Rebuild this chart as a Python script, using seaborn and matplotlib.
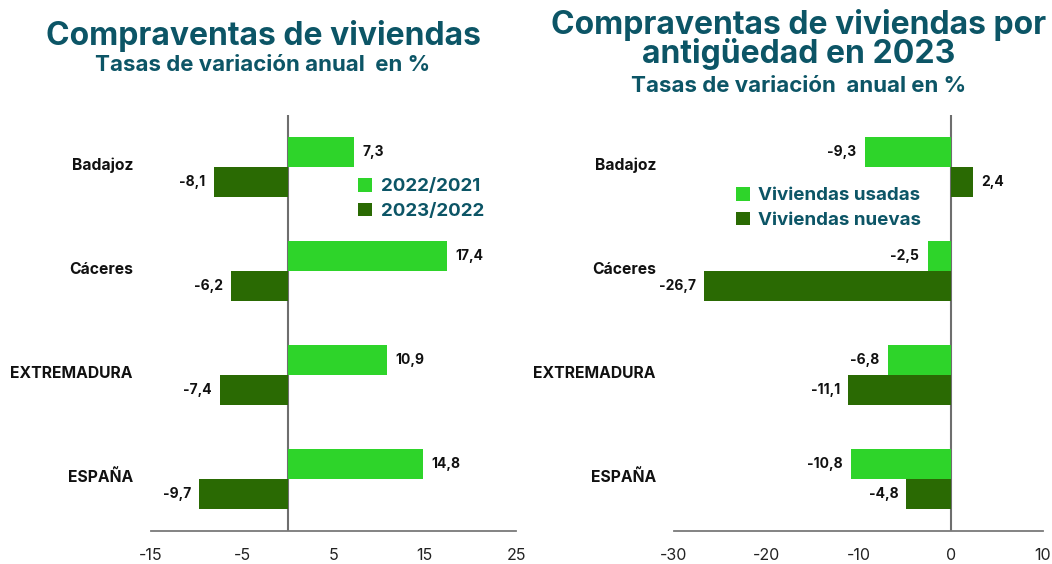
import matplotlib
matplotlib.use("Agg")
import matplotlib.pyplot as plt
import matplotlib.transforms as mtransforms
import seaborn as sns
import pandas as pd

# ---- data ----
categories = ["Badajoz", "Cáceres", "EXTREMADURA", "ESPAÑA"]
left_series = ["2022/2021", "2023/2022"]
left_2022 = [7.3, 17.4, 10.9, 14.8]
left_2023 = [-8.1, -6.2, -7.4, -9.7]
right_series = ["Viviendas usadas", "Viviendas nuevas"]
right_usadas = [-9.3, -2.5, -6.8, -10.8]
right_nuevas = [2.4, -26.7, -11.1, -4.8]
left_ticks = [-15, -5, 5, 15, 25]
right_ticks = [-30, -20, -10, 0, 10]

LIGHT = "#2ED42A"
DARK = "#2A6A03"
TEAL = "#0C5566"

sns.set_theme(style="white")
plt.rcParams["font.family"] = ["Inter", "DejaVu Sans"]

fig = plt.figure(figsize=(10.52, 5.64), dpi=100)
ax1 = fig.add_axes([151/1052, 1-531/564, 365/1052, 416/564])
ax2 = fig.add_axes([674/1052, 1-531/564, 369/1052, 416/564])


def make_df(s_names, a, b):
    rows = []
    for c, v in zip(categories, a):
        rows.append({"cat": c, "serie": s_names[0], "val": v})
    for c, v in zip(categories, b):
        rows.append({"cat": c, "serie": s_names[1], "val": v})
    return pd.DataFrame(rows)


def fmt(v):
    return f"{v:.1f}".replace(".", ",")


def draw(ax, s_names, a, b, ticks, legend_anchor):
    df = make_df(s_names, a, b)
    sns.barplot(data=df, x="val", y="cat", hue="serie", orient="h",
                palette=[LIGHT, DARK], width=0.58, linewidth=0,
                saturation=1, ax=ax, order=categories, hue_order=s_names)
    for cont, vals in zip(ax.containers, [a, b]):
        ax.bar_label(cont, labels=[fmt(v) for v in vals], padding=6,
                     fontsize=10, fontweight="bold", color="#111111")
    ax.set_xlim(ticks[0], ticks[-1])
    ax.set_xticks(ticks)
    ax.set_xticklabels([str(t) for t in ticks])
    ax.axvline(0, color="#6E6E6E", lw=1.5, zorder=0)
    ax.set_xlabel("")
    ax.set_ylabel("")
    for s in ["top", "right", "left"]:
        ax.spines[s].set_visible(False)
    ax.spines["bottom"].set_color("#7A7A7A")
    ax.spines["bottom"].set_linewidth(1.3)
    ax.tick_params(axis="x", length=0, pad=12, labelsize=11.5, colors="#222222")
    ax.tick_params(axis="y", length=0, pad=13, labelsize=11.3)
    shift = mtransforms.ScaledTranslation(0, 3/100, fig.dpi_scale_trans)
    for lab in ax.get_yticklabels():
        lab.set_fontweight("bold")
        lab.set_color("#111111")
        lab.set_transform(lab.get_transform() + shift)
    handles, labels = ax.get_legend_handles_labels()
    ax.legend(handles, labels, loc="center left", bbox_to_anchor=legend_anchor,
              bbox_transform=fig.transFigure, frameon=False,
              handlelength=0.75, handleheight=0.75, handletextpad=0.45,
              labelspacing=0.4, borderaxespad=0, borderpad=0,
              prop={"size": 13.5, "weight": "bold"}, labelcolor=TEAL)


draw(ax1, left_series, left_2022, left_2023, left_ticks, (358/1052, 1-199/564))
draw(ax2, right_series, right_usadas, right_nuevas, right_ticks, (736/1052, 1-208/564))

fig.text(263/1052, 1-36/564, "Compraventas de viviendas", ha="center", va="center",
         fontsize=23, fontweight="bold", color=TEAL)
fig.text(263/1052, 1-65/564, "Tasas de variación anual  en %", ha="center", va="center",
         fontsize=16, fontweight="bold", color=TEAL)
fig.text(799/1052, 1-25/564, "Compraventas de viviendas por", ha="center", va="center",
         fontsize=23, fontweight="bold", color=TEAL, linespacing=0.9)
fig.text(799/1052, 1-54/564, "antigüedad en 2023", ha="center", va="center",
         fontsize=23, fontweight="bold", color=TEAL)
fig.text(799/1052, 1-86/564, "Tasas de variación  anual en %", ha="center", va="center",
         fontsize=16, fontweight="bold", color=TEAL)

fig.savefig("out.png", dpi=100, facecolor="white")
